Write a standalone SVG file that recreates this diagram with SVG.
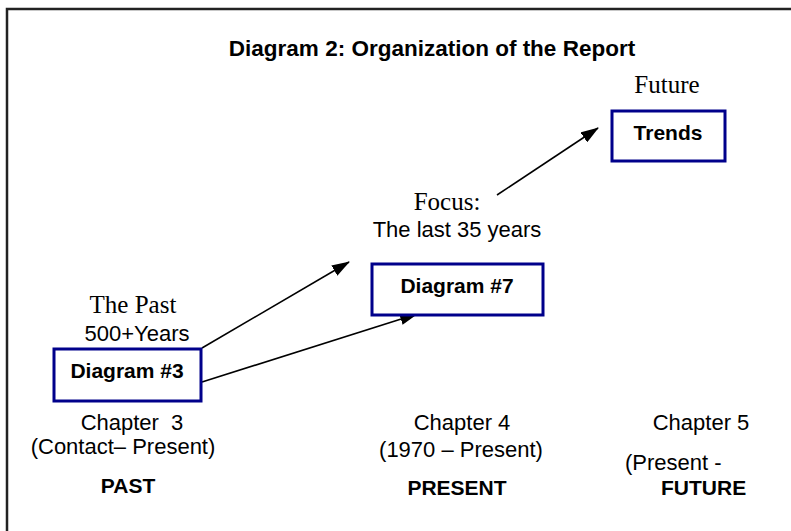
<svg xmlns="http://www.w3.org/2000/svg" width="791" height="531" viewBox="0 0 791 531">
  <defs>
    <marker id="arrow" viewBox="0 0 18 12" refX="17" refY="6" markerWidth="18" markerHeight="12" markerUnits="userSpaceOnUse" orient="auto">
      <path d="M0,0 L18,6 L0,12 Z" fill="#000"/>
    </marker>
    <style>
      .frame { fill: none; stroke: #222; stroke-width: 2.5; }
      .box { fill: #fff; stroke: #00008b; stroke-width: 3; }
      .sans { font-family: "Liberation Sans", Arial, sans-serif; font-size: 22px; fill: #000; }
      .bold { font-family: "Liberation Sans", Arial, sans-serif; font-size: 21px; font-weight: bold; fill: #000; }
      .serif { font-family: "Liberation Serif", "Times New Roman", serif; font-size: 25px; fill: #000; }
      .title { font-family: "Liberation Sans", Arial, sans-serif; font-size: 22.5px; font-weight: bold; fill: #000; }
      .link { stroke: #000; stroke-width: 1.6; fill: none; marker-end: url(#arrow); }
    </style>
  </defs>

  <rect width="791" height="531" fill="#fff"/>
  <!-- outer frame, open to the right and bottom -->
  <rect class="frame" x="7" y="9" width="900" height="600"/>

  <text class="title" x="432" y="56" text-anchor="middle">Diagram 2: Organization of the Report</text>

  <!-- connectors -->
  <g id="connectors">
    <line class="link" x1="202" y1="348" x2="349" y2="262"/>
    <line class="link" x1="202" y1="382" x2="417" y2="314"/>
    <line class="link" x1="497" y1="195" x2="598" y2="128"/>
  </g>

  <!-- past -->
  <g id="past">
    <text class="serif" x="133" y="313" text-anchor="middle">The Past</text>
    <text class="sans" x="137" y="341" text-anchor="middle">500+Years</text>
    <rect class="box" x="54" y="349" width="147" height="52"/>
    <text class="bold" x="127" y="378" text-anchor="middle">Diagram #3</text>
  </g>

  <!-- present -->
  <g id="present">
    <text class="serif" x="447" y="210" text-anchor="middle">Focus:</text>
    <text class="sans" x="457" y="237" text-anchor="middle">The last 35 years</text>
    <rect class="box" x="372" y="264" width="171" height="51"/>
    <text class="bold" x="457" y="293" text-anchor="middle">Diagram #7</text>
  </g>

  <!-- future -->
  <g id="future">
    <text class="serif" x="667" y="93" text-anchor="middle">Future</text>
    <rect class="box" x="612" y="111" width="113" height="50"/>
    <text class="bold" x="668" y="140" text-anchor="middle">Trends</text>
  </g>

  <!-- chapter captions -->
  <g id="chapter3">
    <text class="sans" x="132" y="430" text-anchor="middle" xml:space="preserve">Chapter  3</text>
    <text class="sans" x="123" y="454" text-anchor="middle">(Contact– Present)</text>
    <text class="bold" x="128" y="493" text-anchor="middle">PAST</text>
  </g>
  <g id="chapter4">
    <text class="sans" x="462" y="430" text-anchor="middle">Chapter 4</text>
    <text class="sans" x="461" y="457" text-anchor="middle">(1970 – Present)</text>
    <text class="bold" x="457" y="495" text-anchor="middle">PRESENT</text>
  </g>
  <g id="chapter5">
    <text class="sans" x="701" y="430" text-anchor="middle">Chapter 5</text>
    <text class="sans" x="625" y="470">(Present -</text>
    <text class="bold" x="661" y="495">FUTURE</text>
  </g>
</svg>
